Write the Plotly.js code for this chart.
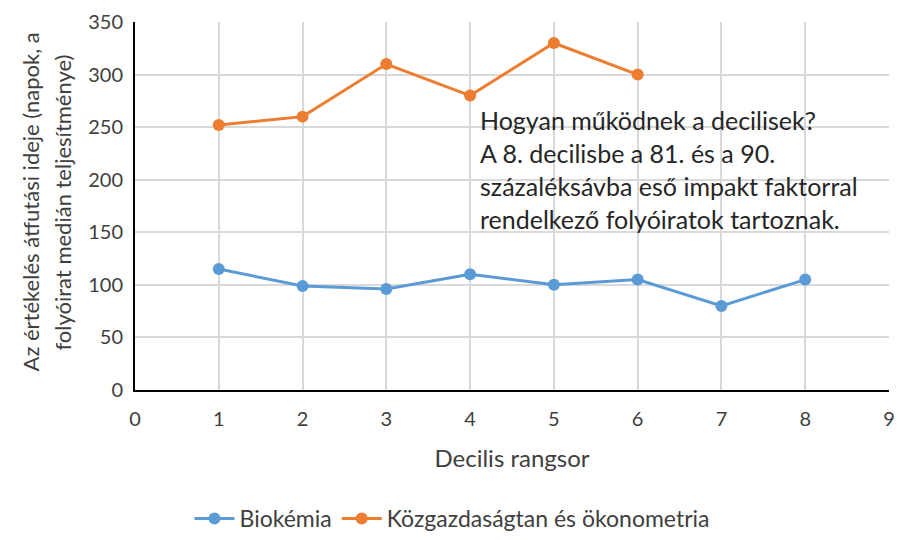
<!DOCTYPE html>
<html>
<head>
<meta charset="utf-8">
<script src="https://cdn.plot.ly/plotly-3.0.1.min.js"></script>
<style>body{margin:0;background:#fff}#chart{width:904px;height:540px}</style>
</head>
<body>
<div id="chart"></div>
<script>
const decilesBio = [1, 2, 3, 4, 5, 6, 7, 8];
const bioValues = [115, 99, 96, 110, 100, 105, 80, 105];
const decilesEcon = [1, 2, 3, 4, 5, 6];
const econValues = [252, 260, 310, 280, 330, 300];
const seriesNames = ["Biokémia", "Közgazdaságtan és ökonometria"];
const noteLines = [
  "Hogyan működnek a decilisek?",
  "A 8. decilisbe a 81. és a 90.",
  "százaléksávba eső impakt faktorral",
  "rendelkező folyóiratok tartoznak."
];
const yTitleLines = [
  "Az értékelés átfutási ideje (napok, a",
  "folyóirat medián teljesítménye)"
];
const xTicks = [0,1,2,3,4,5,6,7,8,9];
const yTicks = [0,50,100,150,200,250,300,350];

const FONT = "Lato, 'Open Sans', sans-serif";
const TXT = "#404040";

const traces = [
  {x: decilesBio, y: bioValues, name: seriesNames[0], type: "scatter", mode: "lines+markers",
   line: {color: "#5B9BD5", width: 3}, marker: {color: "#5B9BD5", size: 12}},
  {x: decilesEcon, y: econValues, name: seriesNames[1], type: "scatter", mode: "lines+markers",
   line: {color: "#ED7D31", width: 3}, marker: {color: "#ED7D31", size: 12}}
];

const annotations = noteLines.map((t, i) => ({
  text: t, xref: "x", yref: "paper", x: 4.1, xanchor: "left",
  y: 0.733 - i * 0.0895, yanchor: "middle", showarrow: false,
  font: {family: FONT, size: 25, color: "#262626"}, align: "left"
})).concat(yTitleLines.map((t, i) => ({
  text: t, xref: "paper", yref: "paper", x: -0.139 + i * 0.0425, xanchor: "center",
  y: 0.51, yanchor: "middle", textangle: -90, showarrow: false,
  font: {family: FONT, size: 22, color: TXT}
})));

const layout = {
  width: 904, height: 540,
  margin: {l: 135, r: 15, t: 22, b: 150},
  paper_bgcolor: "#fff", plot_bgcolor: "#fff",
  font: {family: FONT, color: TXT, size: 20},
  showlegend: true,
  legend: {orientation: "h", xref: "container", yref: "container", x: 0.5, xanchor: "center",
    y: -0.02, yanchor: "bottom", font: {family: FONT, size: 23, color: TXT}, itemwidth: 40,
    tracegroupgap: 30},
  xaxis: {range: [0, 9], tickvals: xTicks, ticktext: xTicks.map(String), showgrid: true,
    gridcolor: "#D9D9D9", gridwidth: 2, zeroline: false, showline: true, linecolor: "#000",
    linewidth: 2, ticks: "", ticklabelstandoff: 10, tickfont: {size: 20, color: TXT},
    title: {text: "Decilis rangsor", font: {size: 24, color: TXT}, standoff: 21}},
  yaxis: {range: [0, 350], tickvals: yTicks, ticktext: yTicks.map(String), showgrid: true,
    gridcolor: "#D9D9D9", gridwidth: 2, zeroline: false, showline: true, linecolor: "#000",
    linewidth: 2, ticks: "", ticklabelstandoff: 6, tickfont: {size: 20, color: TXT}},
  annotations: annotations
};

Plotly.newPlot("chart", traces, layout, {displayModeBar: false, staticPlot: true});
</script>
</body>
</html>
